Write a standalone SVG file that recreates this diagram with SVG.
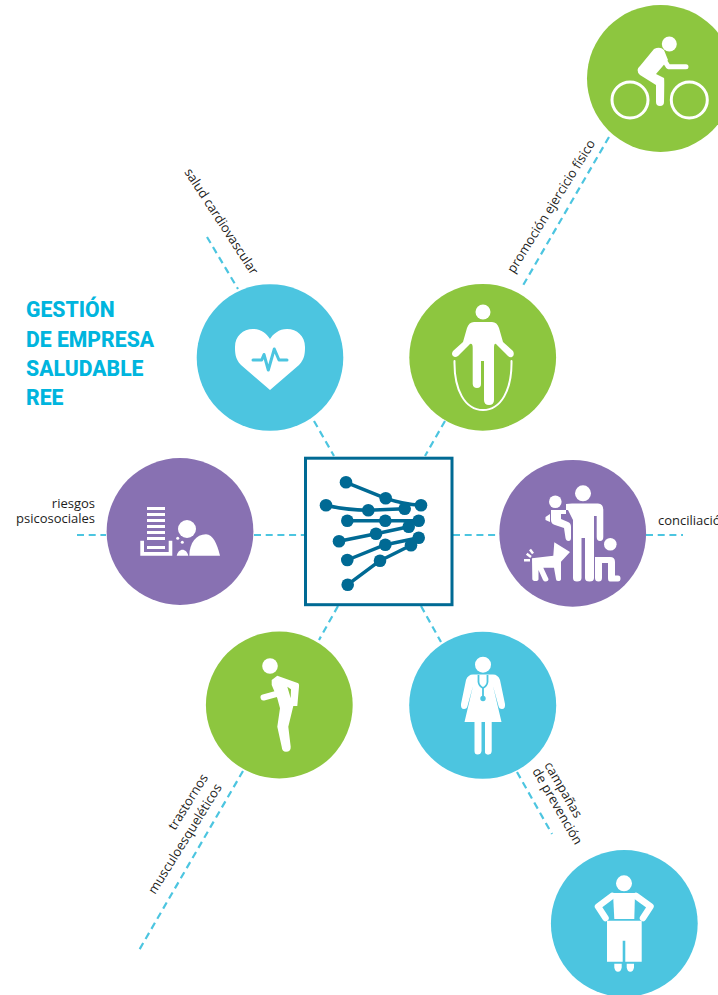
<svg xmlns="http://www.w3.org/2000/svg" width="718" height="995" viewBox="0 0 718 995">
<style>
.c{fill:none;stroke:#4cc5e0;stroke-width:2.2;stroke-dasharray:7 4.700}
.l{font-family:"Open Sans",sans-serif;font-size:13px;fill:#1d1d1b}
.t{font-family:"Roboto",sans-serif;font-weight:800;font-size:21.200px;fill:#00b5de}
.w{fill:#fff}
.s{fill:none;stroke:#fff;stroke-linecap:round;stroke-linejoin:round}
.b{fill:#4cc5e0}.g{fill:#8dc63f}.p{fill:#8871b2}
.n{fill:none;stroke:#006a94;stroke-width:3.500;stroke-linejoin:round}
.d{fill:#006a94}
</style>
<g id="connectors">
<path class="c" d="M609 137L521.500 288"/>
<path class="c" d="M207 237L238 289"/>
<path class="c" d="M314 421L334 456"/>
<path class="c" d="M445 421L425 456"/>
<path class="c" d="M77 535H106"/>
<path class="c" d="M254 535H305"/>
<path class="c" d="M453 535H499"/>
<path class="c" d="M646 535H683"/>
<path class="c" d="M338 606L319 640"/>
<path class="c" d="M421 606L441 642"/>
<path class="c" d="M243 771L138 952"/>
<path class="c" d="M517 772L552 834"/>
</g>
<g id="title">
<text class="t" x="26" y="316.500">GESTIÓN</text>
<text class="t" x="26" y="346.500">DE EMPRESA</text>
<text class="t" x="26" y="375.500">SALUDABLE</text>
<text class="t" x="26" y="404.500">REE</text>
</g>
<g id="center">
<rect x="305.500" y="458.200" width="146.500" height="146.500" fill="#fff" stroke="#006a94" stroke-width="3"/>
<path class="n" d="M346 482.300L385.700 498.300Q403 504 421 505.300"/>
<path class="n" d="M326 505.300Q346 510 368.300 510.300L404.700 508.700"/>
<path class="n" d="M347.300 520.700H418.700"/>
<path class="n" d="M339 541.300L376 533.700L408.700 526.700"/>
<path class="n" d="M347.300 560L385.300 544.700L418.700 537.700"/>
<path class="n" d="M347.700 584.700L380 560.700L411 545.300"/>
<g class="d">
<circle cx="346" cy="482.300" r="6.300"/><circle cx="385.700" cy="498.300" r="6.300"/><circle cx="421" cy="505.300" r="6.300"/>
<circle cx="326" cy="505.300" r="6.300"/><circle cx="368.300" cy="510.300" r="6.300"/><circle cx="404.700" cy="508.700" r="6.300"/>
<circle cx="347.300" cy="520.700" r="6.300"/><circle cx="385.300" cy="520.700" r="6.300"/><circle cx="418.700" cy="520.700" r="6.300"/>
<circle cx="339" cy="541.300" r="6.300"/><circle cx="376" cy="533.700" r="6.300"/><circle cx="408.700" cy="526.700" r="6.300"/>
<circle cx="347.300" cy="560" r="6.300"/><circle cx="385.300" cy="544.700" r="6.300"/><circle cx="418.700" cy="537.700" r="6.300"/>
<circle cx="347.700" cy="584.700" r="6.300"/><circle cx="380" cy="560.700" r="6.300"/><circle cx="411" cy="545.300" r="6.300"/>
</g>
</g>
<g id="node-bike">
<circle class="g" cx="660.500" cy="78.500" r="73.500"/>
<circle class="w" cx="669.300" cy="44" r="7.500"/>
<circle cx="630" cy="100" r="18" fill="none" stroke="#fff" stroke-width="3"/>
<circle cx="689.300" cy="100" r="18" fill="none" stroke="#fff" stroke-width="3"/>
<path class="s" stroke-width="5" d="M686 66.700H668.300L660 54"/>
<path class="w" d="M654 49Q660 46 664 50L668 60L656 74L664 78Q664.500 79 664 102Q664 106 660 106Q656 106 656 102V85L640 75Q635 70 640 66Z"/>
</g>
<g id="node-jump">
<circle class="g" cx="482.700" cy="357.300" r="73.400"/>
<circle class="w" cx="483" cy="312" r="7.500"/>
<path class="w" d="M474 322H492Q497 322 499 328L503 342L513 351Q515 355 512 357Q510 358 508 356L496 344Q494 343 494 348V400Q494 405 489 405Q484 405 484 400V361H481V384Q481 388 477 388Q473 388 472.700 384V348Q472.700 343 470 344L458 356Q455 358 453 356Q451 354 453 351L463 342L467 328Q469 322 474 322Z"/>
<path class="s" stroke-width="2" d="M454.500 361C454 390 465 410 483 410C501 410 512 390 511.500 361"/>
</g>
<g id="node-heart">
<circle class="b" cx="270" cy="357.500" r="73.300"/>
<path class="w" d="M270 390L241 365C235 359 235 352 235 347C235 336 243 329 253 329C261 329 267 334 270 339C273 334 279 329 287 329C297 329 305 336 305 347C305 352 305 359 299 365Z"/>
<path fill="none" stroke="#4cc5e0" stroke-width="3" stroke-linecap="round" stroke-linejoin="round" d="M253 360H261.700L264 354.500L268.300 370L274.300 349L279 360H287"/>
</g>
<g id="node-psico">
<circle class="p" cx="180" cy="531.500" r="73.400"/>
<path class="w" d="M147 507h18v3h-18zM147 513h18v3h-18zM147 519h18v3h-18zM147 525h18v3h-18zM147 531h18v3h-18zM147 537h18v3h-18zM147 546h18v3h-18z"/>
<path class="w" d="M140.300 540.700H144V552H168.700V540.700H172.300V555.700H140.300Z"/>
<circle class="w" cx="187" cy="529" r="9"/>
<path class="w" d="M189.300 555.700C189.500 543 196 534.300 206 534.300C213 534.300 217 544 220 555.700Z"/>
<path class="w" d="M176.700 555.700C177.500 552 180 549.700 182.500 549.700C185 549.700 187.500 552 188.300 555.700Z"/>
<circle class="w" cx="177.700" cy="538.300" r="1.500"/>
<circle class="w" cx="182.300" cy="542.300" r="1.500"/>
</g>
<g id="node-family">
<circle class="p" cx="572.700" cy="533.300" r="73.400"/>
<circle class="w" cx="583" cy="493.300" r="8"/>
<path class="w" d="M572 503.500H598Q603.300 503.500 603.300 510V537Q603.300 541 600 541Q596.700 541 596.700 537V516H594V578Q594 581.500 589.500 581.500Q585 581.500 585 578V538H581.500V578Q581.500 581.500 577 581.500Q573 581.500 573 578V520L568 510H566V504Z"/>
<circle class="w" cx="555.300" cy="501.700" r="6.300"/>
<path class="w" d="M552 510H566V514H561V519L568 522Q571 523 571 527V538Q571 541 568.500 541Q566 541 565.500 538L564 528L555 525Q551 524 551 520V510Z"/>
<path class="w" d="M550 514L545.500 517V520L550 522Z"/>
<path class="w" d="M532 558.300L553.300 555.700L554.300 542.300L570 552L561 561.700V579Q561 581 558 581Q556 581 556 579L554 567.700H543.300L548.500 579Q548.500 581 545.500 581.500Q544 581.500 543 580L538.500 570V579Q538.500 581 535.500 581Q532.500 581 532.300 579Z"/>
<path d="M524 560.300H530M526.700 553.700L531 557M530 549.500L533 553.500" fill="none" stroke="#fff" stroke-width="2.500"/>
<circle class="w" cx="610.300" cy="544.300" r="6.300"/>
<path class="w" d="M595 557H610Q615 557 615 562V575.500H618Q620.500 575.500 620.500 578.500Q620.500 581.500 618 581.500H610Q608 581.500 608 578V563H602V578Q602 581.500 598.500 581.500Q595 581.500 595 578Z"/>
</g>
<g id="node-back">
<circle class="g" cx="279.300" cy="705" r="73.400"/>
<circle class="w" cx="270" cy="666" r="7.800"/>
<path class="w" d="M271.700 680L277.300 675.700L298.300 683.300Q299.500 684.500 299 686.700L297.300 706H293.300L288.300 726.700L290.700 746.700Q291 751.700 286 751.700Q282 751.700 281.700 746.700L277.300 726.700L280 708.300L277.300 698.300L271.700 685Z"/>
<path class="g" d="M287.300 686.700L290.700 698.300L291 689.300Z"/>
<path class="s" stroke-width="6" d="M263.500 697.500L278 693.500"/>
</g>
<g id="node-doctor">
<circle class="b" cx="482.700" cy="705.300" r="73.500"/>
<circle class="w" cx="483" cy="664.700" r="8"/>
<path class="w" d="M473 674.500H493Q498 674.500 500 680L505 704Q505.500 709 502 709Q499 709 498.500 706L493 686L501.500 722H488.500V752Q488.500 754.500 488.500 754.500Q485 754.500 485 751V722H481.500V751Q481 754.500 477.500 754.500Q474.500 754.500 474.500 751V722H464.500L473 686L467.500 706Q467 709 464 709Q460.500 709 461 704L466 680Q468 674.500 473 674.500Z"/>
<path class="w" d="M485 722H491.700V751Q491.500 754.500 488.300 754.500Q485 754.500 485 751Z"/>
<path fill="none" stroke="#4cc5e0" stroke-width="1.800" d="M478.500 675V682Q479 686 483 688Q487 686 487.500 682V675M483 688V698"/>
<circle class="b" cx="483" cy="698.500" r="2.700"/>
</g>
<g id="node-wide">
<circle class="b" cx="624.300" cy="923.500" r="73.400"/>
<circle class="w" cx="624" cy="883.300" r="8"/>
<path class="w" d="M613 893H635L634.300 919H614.300Z"/>
<path class="s" stroke-width="6.500" d="M612 896L598 906.500L605.500 918M636 896L650.500 906.500L643 918"/>
<path class="w" d="M607 920.700H641.700V961.700H625.300V940.700H622.700V961.700H607Z"/>
<path class="w" d="M614.300 963.700H621.700V967.500Q621 971.700 618 971.700Q615 971.700 614.300 967.500ZM626.700 963.700H634V967.500Q633.300 971.700 630.300 971.700Q627.400 971.700 626.700 967.500Z"/>
</g>
<g id="labels">
<text class="l" text-anchor="end" x="95" y="508">riesgos</text>
<text class="l" text-anchor="end" x="95" y="523">psicosociales</text>
<text class="l" x="658" y="525">conciliación</text>
<text class="l" transform="translate(514 274) rotate(-58)">promoción ejercicio físico</text>
<text class="l" transform="translate(184 172) rotate(57)">salud cardiovascular</text>
<text class="l" transform="translate(175 831) rotate(-58)">trastornos</text>
<text class="l" transform="translate(155 895) rotate(-58)">musculoesqueléticos</text>
<text class="l" transform="translate(544 765) rotate(60)">campañas</text>
<text class="l" transform="translate(532 771) rotate(60)">de prevención</text>
</g>
</svg>
